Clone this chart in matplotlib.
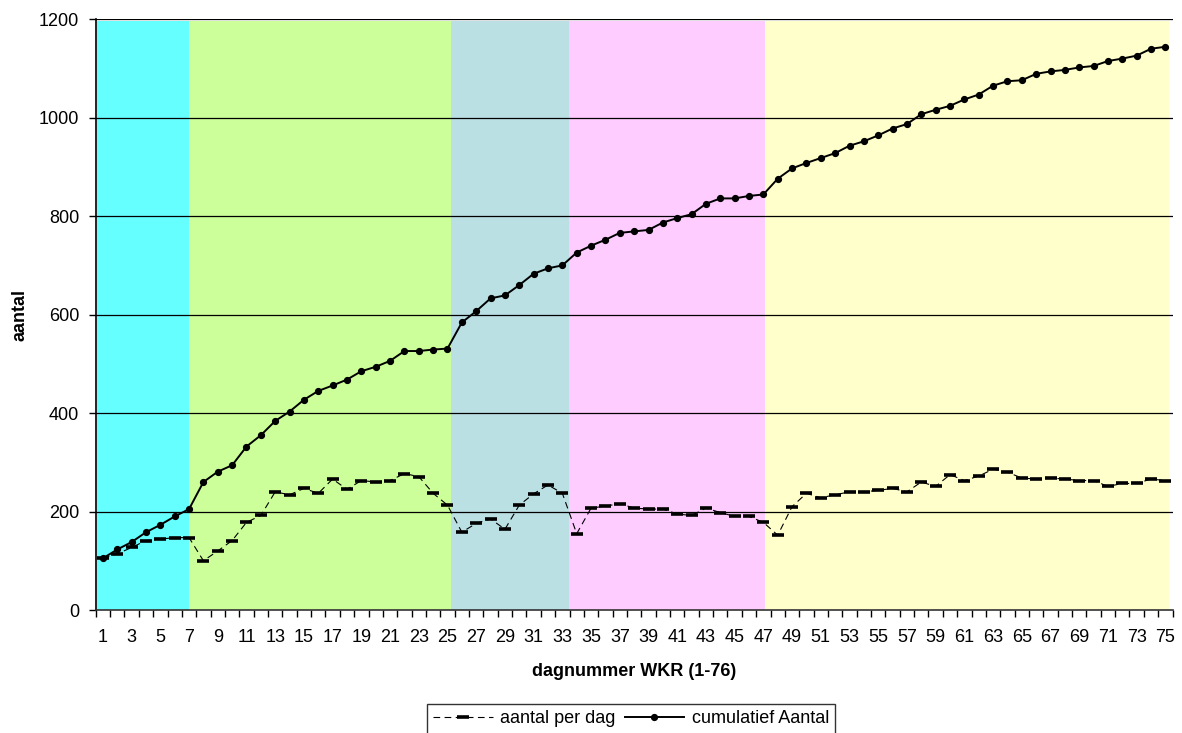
import numpy as np
import matplotlib.pyplot as plt
from matplotlib.ticker import MultipleLocator, FixedLocator

plt.rcParams["font.family"] = ["Liberation Sans", "DejaVu Sans"]

days = np.arange(1, 76)

per_dag = [105, 114, 127, 141, 144, 147, 147, 100, 120, 141,
           178, 192, 240, 234, 247, 237, 266, 245, 263, 260,
           263, 277, 271, 237, 213, 158, 176, 185, 164, 213,
           236, 254, 237, 155, 207, 211, 216, 207, 205, 205,
           195, 192, 207, 198, 190, 190, 178, 152, 210, 237,
           228, 234, 240, 240, 243, 247, 240, 260, 251, 275,
           263, 272, 286, 280, 268, 266, 268, 266, 263, 263,
           251, 257, 257, 266, 263]

cumulatief = [105, 123, 138, 158, 173, 190, 205, 260, 281, 294,
              332, 355, 384, 403, 427, 445, 456, 468, 485, 494,
              506, 526, 526, 529, 531, 584, 607, 633, 639, 660,
              683, 694, 700, 726, 740, 752, 766, 769, 772, 787,
              796, 804, 825, 836, 836, 841, 844, 876, 897, 908,
              918, 928, 943, 952, 964, 978, 987, 1007, 1016, 1024,
              1037, 1047, 1065, 1074, 1076, 1089, 1094, 1097, 1102, 1105,
              1115, 1120, 1126, 1140, 1144]

# background phases (day boundaries) and colours
phase_edges = [0.57, 7.0, 25.24, 33.46, 47.11, 75.26]
phase_colors = ["#66FFFF", "#CCFF99", "#BBE0E3", "#FFCCFF", "#FFFFCC"]

fig = plt.figure(figsize=(11.82, 7.33), dpi=100)
ax = fig.add_axes([0.081, 0.1678, 0.911, 0.806])

for x0, x1, c in zip(phase_edges[:-1], phase_edges[1:], phase_colors):
    ax.axvspan(x0, x1, ymin=0, ymax=0.997, color=c, lw=0, zorder=0)

for y in range(200, 1201, 200):
    ax.axhline(y, color="black", lw=0.9, zorder=1)

ax.plot(days, per_dag, color="black", lw=0.8, ls=(0, (6, 4)),
        marker="_", ms=8, mew=2.6, zorder=3, label="aantal per dag")
ax.plot(days, cumulatief, color="black", lw=1.4,
        marker="o", ms=4.2, zorder=4, label="cumulatief Aantal")

ax.set_xlim(0.5, 75.5)
ax.set_ylim(0, 1200)

fs = 13
ax.xaxis.set_major_locator(FixedLocator(np.arange(1, 76, 2)))
ax.xaxis.set_minor_locator(FixedLocator(np.arange(0.5, 76, 1)))
ax.tick_params(axis="x", which="major", length=0, labelsize=fs, pad=14)
ax.tick_params(axis="x", which="minor", length=5, width=1, direction="out")
ax.yaxis.set_major_locator(MultipleLocator(200))
ax.tick_params(axis="y", length=5, width=1, labelsize=fs, pad=7)

for side in ["top", "right"]:
    ax.spines[side].set_visible(False)
ax.spines["left"].set_linewidth(1.2)
ax.spines["bottom"].set_linewidth(1.2)
ax.spines["bottom"].set_color("#333333")

ax.set_xlabel("dagnummer WKR (1-76)", fontsize=fs, fontweight="bold", labelpad=12)
ax.set_ylabel("aantal", fontsize=fs, fontweight="bold")
ax.yaxis.set_label_coords(-0.062, 0.5)

leg = fig.legend(loc="upper center", bbox_to_anchor=(0.534, 0.052), ncol=2,
                 fontsize=fs, frameon=True, fancybox=False, handlelength=3.3,
                 columnspacing=0.5, handletextpad=0.4, borderpad=0.35)
leg.get_frame().set_edgecolor("black")
leg.get_frame().set_linewidth(1.0)

fig.savefig("out.png", dpi=100)
